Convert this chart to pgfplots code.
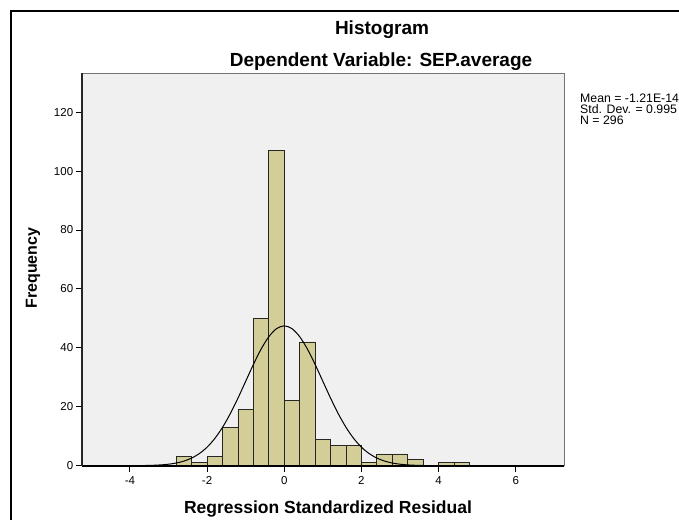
\documentclass[border=0pt]{standalone}
\usepackage{fontspec}
\setmainfont{Liberation Sans}
\usepackage{pgfplots}
\pgfplotsset{compat=1.18}
\definecolor{barfill}{RGB}{211,206,151}
\definecolor{plotbg}{RGB}{240,240,240}

\begin{document}
\begin{tikzpicture}[x=1pt,y=1pt]
\useasboundingbox (0,0) rectangle (679,519);
\clip (0,0) rectangle (679,519);
\draw[line width=2pt] (11,-20) rectangle (700,508);

\node[font=\fontsize{19}{19}\selectfont\bfseries, anchor=base] at (382,484) {Histogram};
\node[font=\fontsize{19}{19}\selectfont\bfseries, anchor=base] at (381,452) {Dependent Variable: SEP.average};
\node[font=\fontsize{12.3}{11}\selectfont, anchor=north west, align=left, inner sep=0pt]
  at (580,425) {Mean = -1.21E-14\\Std. Dev. = 0.995\\N = 296};
\node[font=\fontsize{16}{16}\selectfont\bfseries, rotate=90] at (33,251) {Frequency};
\node[font=\fontsize{17.5}{17.5}\selectfont\bfseries, anchor=base] at (328,6) {Regression Standardized Residual};

\begin{axis}[
  at={(81.7pt,53.3pt)}, anchor=south west,
  scale only axis, width=482.3pt, height=392.4pt,
  xmin=-5.25, xmax=7.25, ymin=0, ymax=133.2,
  xtick={-4,-2,0,2,4,6}, ytick={0,20,40,60,80,100,120},
  tick align=outside, tick pos=left, major tick length=6pt,
  tick style={black, line width=0.9pt},
  axis line style={draw=black!55, line width=0.8pt},
  axis background/.style={fill=plotbg},
  ticklabel style={font=\fontsize{11.5}{11.5}\selectfont},
  /pgf/number format/assume math mode=true,
  xticklabel style={yshift=-1pt},
  yticklabel style={xshift=1pt},
  clip=false,
]
\addplot[ybar interval, fill=barfill, draw=black!85, line width=0.8pt] coordinates {
  (-2.8,3) (-2.4,1) (-2.0,3) (-1.6,13) (-1.2,19) (-0.8,50) (-0.4,107)
  (0.0,22) (0.4,42) (0.8,9) (1.2,7) (1.6,7) (2.0,1) (2.4,4) (2.8,4)
  (3.2,2) (3.6,0) (4.0,1) (4.4,1) (4.8,1)};
\addplot[smooth, black, line width=1pt, mark=none] coordinates {
  (-4.0,0.015) (-3.8,0.032) (-3.6,0.068) (-3.4,0.138) (-3.2,0.269) (-3.0,0.504)
  (-2.8,0.905) (-2.6,1.562) (-2.4,2.59) (-2.2,4.12) (-2.0,6.29) (-1.8,9.24)
  (-1.6,13.03) (-1.4,17.64) (-1.2,22.94) (-1.0,28.65) (-0.8,34.36) (-0.6,39.58)
  (-0.4,43.79) (-0.2,46.52) (0.0,47.47) (0.2,46.52) (0.4,43.79) (0.6,39.58)
  (0.8,34.36) (1.0,28.65) (1.2,22.94) (1.4,17.64) (1.6,13.03) (1.8,9.24)
  (2.0,6.29) (2.2,4.12) (2.4,2.59) (2.6,1.562) (2.8,0.905) (3.0,0.504)
  (3.2,0.269) (3.4,0.138) (3.6,0.068) (3.8,0.032) (4.0,0.015)};
\draw[black, line width=1.6pt] (rel axis cs:0,0) -- (rel axis cs:1,0);
\draw[black!85, line width=1.6pt] (rel axis cs:0,0) -- (rel axis cs:0,1);
\end{axis}
\end{tikzpicture}
\end{document}
